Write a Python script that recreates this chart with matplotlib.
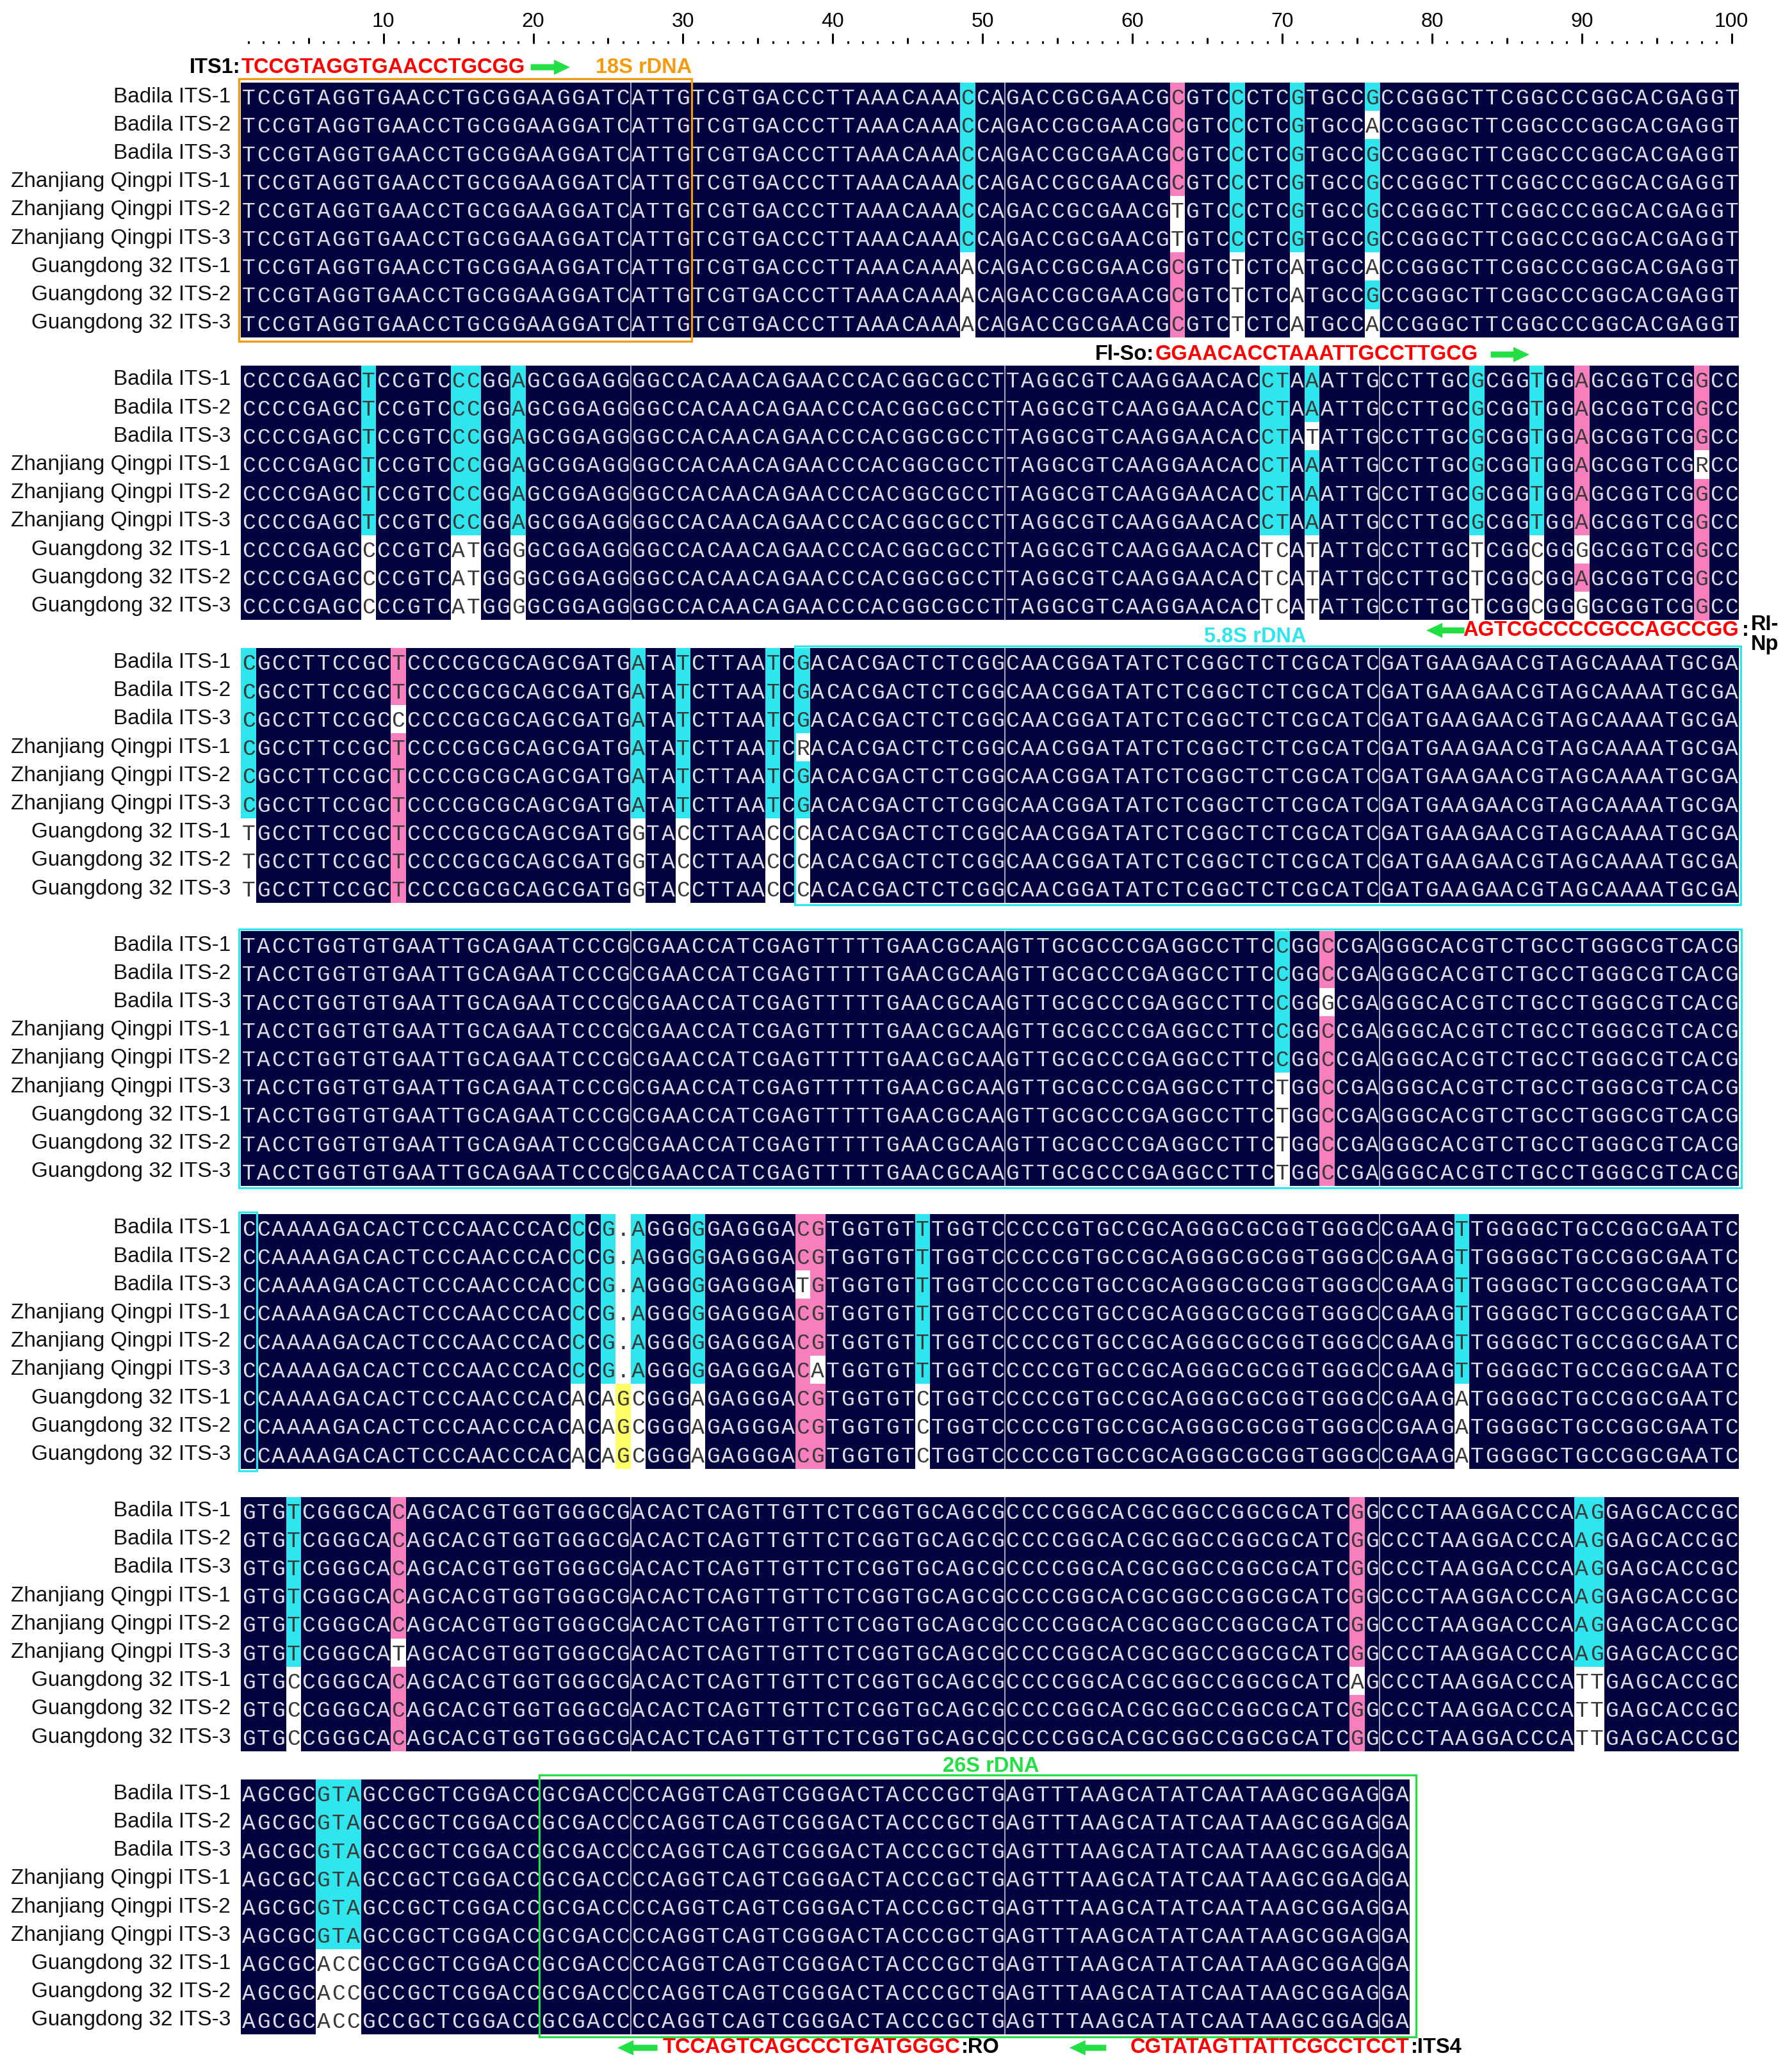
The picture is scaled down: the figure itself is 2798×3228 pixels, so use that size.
import matplotlib
matplotlib.use("Agg")
import matplotlib.pyplot as plt
from matplotlib.patches import Rectangle, FancyArrowPatch

''' ITS alignment, Badila / Zhanjiang Qingpi / Guangdong 32 '''

ROW_NAMES = ["Badila ITS-1", "Badila ITS-2", "Badila ITS-3",
             "Zhanjiang Qingpi ITS-1", "Zhanjiang Qingpi ITS-2", "Zhanjiang Qingpi ITS-3",
             "Guangdong 32 ITS-1", "Guangdong 32 ITS-2", "Guangdong 32 ITS-3"]

# consensus of the first rows of every block of 100 columns
BASE_1 = ("TCCGTAGGTG" "AACCTGCGGA" "AGGATCATTG" "TCGTGACCCT" "TAAACAAA" "C" "CA"
          "GACCGCGAACG" "C" "GTC" "C" "CTC" "G" "TGCC" "G" "CCGGGCTTCGGCCCGGCACGAGGT")
BASE_2 = ("CCCCGAGC" "T" "CCGTC" "CC" "GG" "A" "GCGGAGG" "GGCCACAACAGAACCCACGGCGCCT"
          "TAGGCGTCAAGGAACAC" "CT" "A" "A" "ATTG" "CCTTGC" "G" "CGG" "T" "GG" "A" "GCGGTCG" "G" "CC")
BASE_3 = ("C" "GCCTTCCGC" "T" "CCCCGCGCAGCGATG" "A" "TA" "T" "CTTAA" "T" "C" "G" "ACACGACTCTCGG"
          "CAACGGATATCTCGGCTCTCGCATC" "GATGAAGAACGTAGCAAAATGCGA")
BASE_4 = ("TACCTGGTGTGAATTGCAGAATCCCG" "CGAACCATCGAGTTTTTGAACGCAA" "GTTGCGCCCGAGGCCTTC" "C" "GG" "C"
          "CGA" "GGGCACGTCTGCCTGGGCGTCACG")
BASE_5 = ("C" "CAAAAGACACTCCCAACCCAC" "C" "C" "G" "." "A" "GGG" "G" "GAGGGA" "C" "G" "TGGTGT" "T" "TGGTC"
          "CCCCGTGCCGCAGGGCGCGGTGGGC" "CGAAG" "T" "TGGGGCTGCCGGCGAATC")
BASE_6 = ("GTG" "T" "CGGGCA" "C" "AGCACGTGGTGGGCG" "ACACTCAGTTGTTCTCGGTGCAGCG" "CCCCGGCACGCGGCCGGCGCATC"
          "G" "G" "CCCTAAGGACCCA" "AG" "GAGCACCGC")
BASE_7 = ("AGCGC" "GTA" "GCCGCTCGGACC" "GCGACC" "CCAGGTCAGTCGGGACTACCCGCTG" "AGTTTAAGCATATCAATAAGCGGAG" "GA")

# per row differences from the consensus: {row: {column (1-based): base}}
GD_2 = {9: "C", 15: "A", 16: "T", 19: "G", 69: "T", 70: "C", 72: "T", 83: "T", 87: "C"}
GD_2G = {9: "C", 15: "A", 16: "T", 19: "G", 69: "T", 70: "C", 72: "T", 83: "T", 87: "C", 90: "G"}
VAR_1 = {1: {76: "A"}, 4: {63: "T"}, 5: {63: "T"},
         6: {49: "A", 67: "T", 71: "A", 76: "A"}, 7: {49: "A", 67: "T", 71: "A"},
         8: {49: "A", 67: "T", 71: "A", 76: "A"}}
VAR_2 = {2: {72: "T"}, 3: {98: "R"}, 6: GD_2G, 7: GD_2, 8: GD_2G}
GD_3 = {1: "T", 27: "G", 30: "C", 36: "C", 38: "C"}
VAR_3 = {2: {11: "C"}, 3: {38: "R"}, 6: GD_3, 7: GD_3, 8: GD_3}
VAR_4 = {2: {73: "G"}, 5: {70: "T"}, 6: {70: "T"}, 7: {70: "T"}, 8: {70: "T"}}
GD_5 = {23: "A", 25: "A", 26: "G", 27: "C", 31: "A", 46: "C", 82: "A"}
VAR_5 = {2: {38: "T"}, 5: {39: "A"}, 6: GD_5, 7: GD_5, 8: GD_5}
VAR_6 = {5: {11: "T"}, 6: {4: "C", 75: "A", 90: "T", 91: "T"},
         7: {4: "C", 90: "T", 91: "T"}, 8: {4: "C", 90: "T", 91: "T"}}
GD_7 = {6: "A", 7: "C", 8: "C"}
VAR_7 = {6: GD_7, 7: GD_7, 8: GD_7}

BASES = [BASE_1, BASE_2, BASE_3, BASE_4, BASE_5, BASE_6, BASE_7]
VARIANTS = [VAR_1, VAR_2, VAR_3, VAR_4, VAR_5, VAR_6, VAR_7]

RULER_LABELS = [10, 20, 30, 40, 50, 60, 70, 80, 90, 100]

NAVY = "#03033f"
CYAN = "#30e6ee"
PINK = "#f77fbe"
YELLOW = "#ffff66"
GREEN = "#22e044"
ORANGE = "#f59a0c"

X0 = 376.4
CW = 23.39
TOP0 = 129.0
STEP = 441.7
RH = 44.2
LABEL_X = 360


def build_rows(base, variants):
  rows = []
  for i in range(len(ROW_NAMES)):
    seq = list(base)
    for col, ch in variants.get(i, {}).items():
      seq[col - 1] = ch
    rows.append("".join(seq))
  return rows


def cell_color(column, ch):
  if ch == ".":
    return "white"
  n = column.count(ch)
  if n == len(column):
    return NAVY
  if n >= 7:
    return PINK
  if n >= 5:
    return CYAN
  if "." in column and n >= 3:
    return YELLOW
  return "white"


def col_left(c):
  return X0 + (c - 1) * CW


def arrow(ax, x_tail, x_head, y):
  ax.add_patch(FancyArrowPatch((x_tail, y), (x_head, y),
                               arrowstyle="simple,head_width=0.85,head_length=0.9,tail_width=0.34",
                               mutation_scale=20, color=GREEN, lw=0))


fig = plt.figure(figsize=(27.98, 32.28), dpi=100)
ax = fig.add_axes([0, 0, 1, 1])
ax.set_xlim(0, 2798)
ax.set_ylim(3228, 0)
ax.axis("off")

mono = ["Liberation Mono", "DejaVu Sans Mono"]
sans = ["Liberation Sans", "DejaVu Sans"]

# ruler
for c in range(1, 101):
  xc = col_left(c) + CW / 2
  if c % 10 == 0:
    ax.plot([xc, xc], [52, 68], color="black", lw=2.2, solid_capstyle="butt")
  elif c % 5 == 0:
    ax.plot([xc, xc], [59, 68], color="black", lw=2.2, solid_capstyle="butt")
  else:
    ax.plot([xc, xc], [64, 68], color="black", lw=2.2, solid_capstyle="butt")
for v in RULER_LABELS:
  ax.text(col_left(v) + CW / 2, 34, str(v), ha="center", va="center", fontsize=23, family=sans)

# alignment blocks
for b, (base, variants) in enumerate(zip(BASES, VARIANTS)):
  rows = build_rows(base, variants)
  ncol = len(base)
  top = TOP0 + b * STEP
  ax.add_patch(Rectangle((X0, top), ncol * CW, len(rows) * RH, fc=NAVY, ec="none", zorder=1))
  ax.vlines([X0 + k * CW for k in (26, 51, 76) if k < ncol], top, top + len(rows) * RH,
            colors="#d4d4e4", lw=1.1, zorder=2)
  for c in range(ncol):
    column = [r[c] for r in rows]
    for i, ch in enumerate(column):
      fc = cell_color(column, ch)
      y0 = top + i * RH
      if fc != NAVY:
        ax.add_patch(Rectangle((X0 + c * CW, y0), CW, RH, fc=fc, ec="none", zorder=3))
        tc = "#3a3a3a"
      else:
        tc = "#dcdce2"
      ax.text(X0 + (c + 0.5) * CW, y0 + RH / 2 + 12.0, ch, ha="center", va="baseline",
              fontsize=25, family=mono, color=tc, zorder=4)
  for i, name in enumerate(ROW_NAMES):
    ax.text(LABEL_X, top + (i + 0.5) * RH, name, ha="right", va="center",
            fontsize=24, family=sans, color="#111111")

bh = len(ROW_NAMES) * RH
tops = [TOP0 + b * STEP for b in range(7)]

# region boxes
ax.add_patch(Rectangle((X0 - 3, tops[0] - 6), 30 * CW + 5, bh + 12, fill=False, ec=ORANGE, lw=2.3, zorder=5))
ax.add_patch(Rectangle((col_left(38) - 1, tops[2] - 3), 63 * CW + 4, bh + 6, fill=False, ec=CYAN, lw=2.3, zorder=5))
ax.add_patch(Rectangle((X0 - 3, tops[3] - 3), 100 * CW + 7, bh + 6, fill=False, ec=CYAN, lw=2.3, zorder=5))
ax.add_patch(Rectangle((X0 - 3, tops[4] - 3), CW + 4, bh + 6, fill=False, ec=CYAN, lw=2.3, zorder=5))
ax.add_patch(Rectangle((col_left(21) - 2, tops[6] - 7), 58 * CW + 12, bh + 11, fill=False, ec=GREEN, lw=2.3, zorder=5))

ax.text(col_left(31) + 2, tops[0] - 24, "18S rDNA", ha="right", va="center", fontsize=23.5,
        weight="bold", family=sans, color=ORANGE)
ax.text(1960, tops[1] + bh + 26, "5.8S rDNA", ha="center", va="center", fontsize=23.5,
        weight="bold", family=sans, color=CYAN)
ax.text(1547, tops[6] - 21, "26S rDNA", ha="center", va="center", fontsize=23.5,
        weight="bold", family=sans, color=GREEN)

# primers
pf = dict(fontsize=23.5, weight="bold", family=sans, va="center")
y = tops[0] - 24
ax.text(col_left(1) - 1, y, "ITS1:", ha="right", color="black", **pf)
ax.text(col_left(1), y, "TCCGTAGGTGAACCTGCGG", ha="left", color="red", **pf)
arrow(ax, col_left(20) + 5, col_left(20) + 72, y)

y = tops[1] - 17
ax.text(col_left(62) - 1, y, "Fl-So:", ha="right", color="black", **pf)
ax.text(col_left(62), y, "GGAACACCTAAATTGCCTTGCG", ha="left", color="red", **pf)
arrow(ax, col_left(84) + 7, col_left(84) + 73, y)

y = tops[1] + bh + 16
ax.text(col_left(101), y, "AGTCGCCCCGCCAGCCGG", ha="right", color="red", **pf)
ax.text(col_left(101) + 4, y, ":", ha="left", color="black", **pf)
ax.text(col_left(101) + 18, y - 9, "RI-", ha="left", color="black", **pf)
ax.text(col_left(101) + 18, y + 22, "Np", ha="left", color="black", **pf)
arrow(ax, col_left(83) - 5, col_left(83) - 70, y)

y = tops[6] + bh + 21
ax.text(col_left(49), y, "TCCAGTCAGCCCTGATGGGC", ha="right", color="red", **pf)
ax.text(col_left(49) + 2, y, ":RO", ha="left", color="black", **pf)
arrow(ax, col_left(29) - 2, col_left(29) - 70, y)
ax.text(col_left(79), y, "CGTATAGTTATTCGCCTCCT", ha="right", color="red", **pf)
ax.text(col_left(79) + 2, y, ":ITS4", ha="left", color="black", **pf)
arrow(ax, col_left(59) - 3, col_left(59) - 66, y)

fig.savefig("out.png", dpi=100, facecolor="white")
